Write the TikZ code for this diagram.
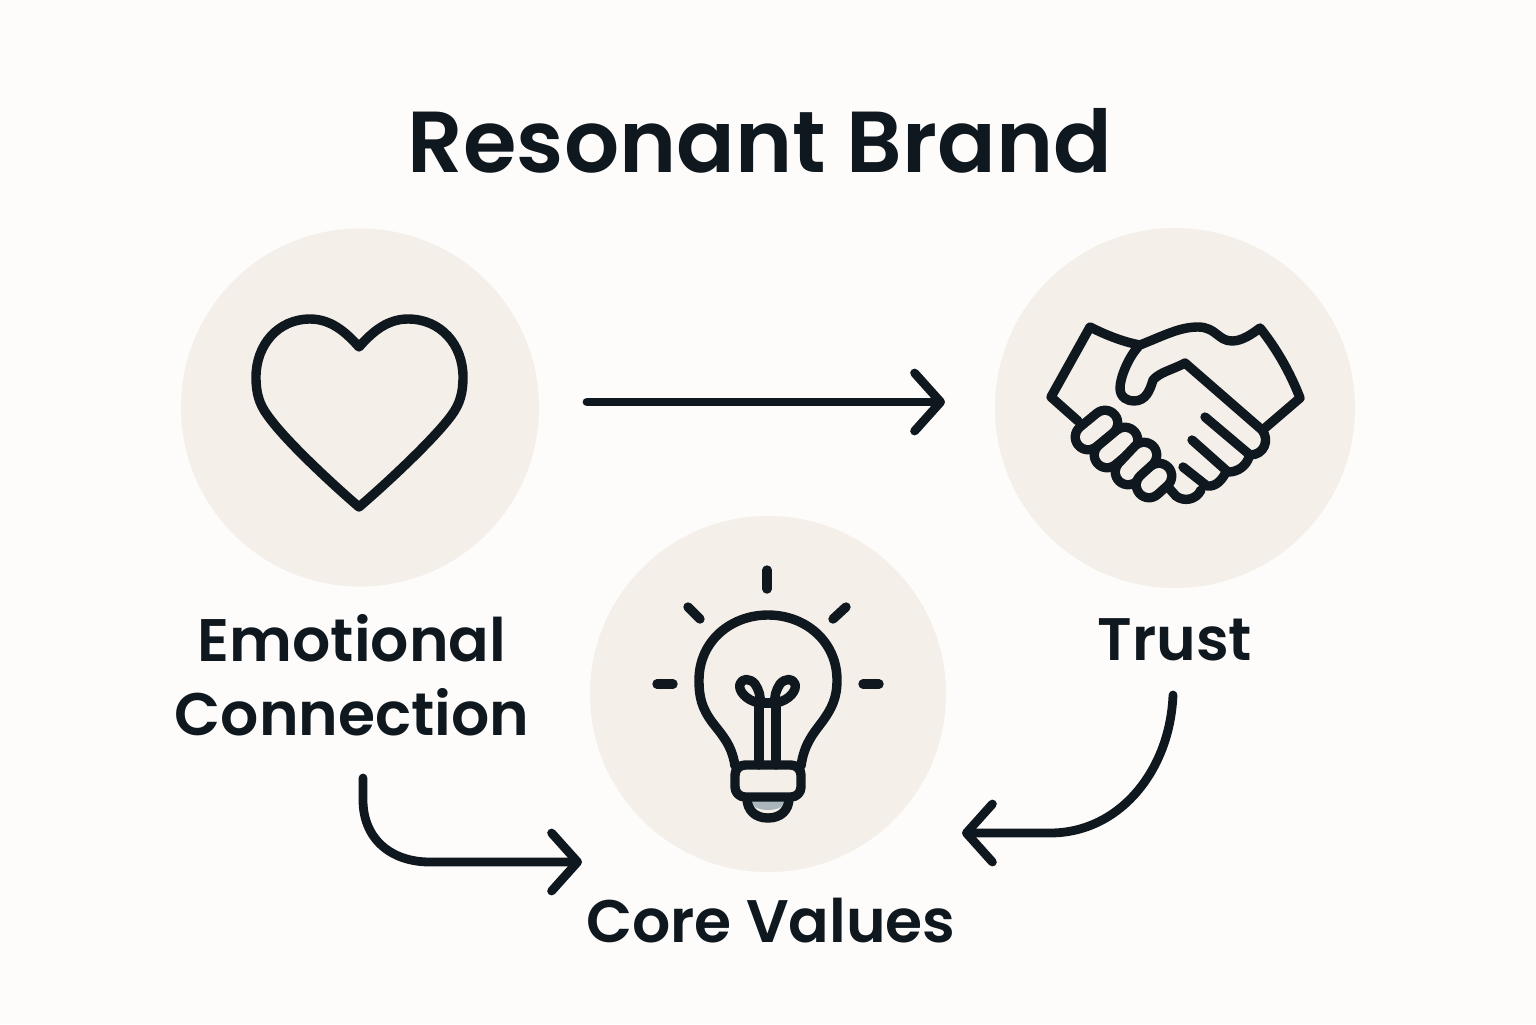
\documentclass[tikz,border=0pt]{standalone}
\usepackage{fontspec}
\setmainfont{Poppins SemiBold}
\usetikzlibrary{arrows.meta}
\definecolor{bgc}{HTML}{FDFCFA}
\definecolor{disc}{HTML}{F4EFE9}
\definecolor{ink}{HTML}{10181F}
\definecolor{glass}{HTML}{A9B6BA}
\tikzset{
  iconline/.style={draw=ink,line width=4.7pt,line cap=round,line join=round},
  disc node/.style={circle,fill=disc,inner sep=0pt,minimum size=#1},
  label text/.style={text=ink,font=\fontsize{30}{30}\selectfont,inner sep=0pt,anchor=base},
  flowarrow/.style={draw=ink,line width=4.4pt,line cap=round,line join=round,-{Straight Barb[length=13pt,width=29pt,round]}},
}
\newcommand{\capsule}[4]{%
  \draw[ink,line width=17.4pt,line cap=round] (#1,#2)--(#3,#4);
  \draw[disc,line width=8pt,line cap=round] (#1,#2)--(#3,#4);}
\begin{document}
\begin{tikzpicture}[x=0.5pt,y=-0.5pt]
\useasboundingbox (0,0) rectangle (1536,1024);
\fill[bgc] (0,0) rectangle (1536,1024);
\node[disc node=179pt] (dE) at (360,407.5) {};
\node[disc node=180pt] (dT) at (1175,408) {};
\node[disc node=178pt] (dC) at (768,694) {};
\node[text=ink,font=\fontsize{43.3}{43.3}\selectfont,inner sep=0pt,anchor=base] (title) at (760,172) {Resonant Brand};
\node[label text] (l1) at (352,661) {Emotional};
\node[label text] (l2) at (352,735) {Connection};
\node[label text] (l3) at (1175,660) {Trust};
\node[label text] (l4) at (771,942) {Core Values};
% heart
\draw[iconline] (359,347) .. controls (345,331) and (330,319) .. (310,319)
 .. controls (278,319) and (256,345) .. (256,377)
 .. controls (256,393) and (259,404) .. (268,416)
 .. controls (285,440) and (330,482) .. (359,507)
 .. controls (388,482) and (433,440) .. (451,416)
 .. controls (460,404) and (463,393) .. (463,377)
 .. controls (463,345) and (441,319) .. (408,319)
 .. controls (388,319) and (373,331) .. (359,347) -- cycle;
% handshake
\draw[iconline] (1078,421) -- (1051,397) -- (1090,327) .. controls (1108,336) and (1124,342) .. (1140,345);
\draw[iconline] (1140,345) .. controls (1165,335) and (1180,327) .. (1198,327)
 .. controls (1216,327) and (1218,341) .. (1232,341)
 .. controls (1242,341) and (1252,334) .. (1260,328)
 .. controls (1276,348) and (1290,372) .. (1300,398) -- (1265,428);
\draw[iconline] (1138,347) .. controls (1128,358) and (1120,378) .. (1120,388)
 .. controls (1120,398) and (1128,401) .. (1134,401)
 .. controls (1146,401) and (1150,390) .. (1153,380)
 .. controls (1160,372) and (1172,370) .. (1185,363) -- (1262,430)
 .. controls (1270,440) and (1264,455) .. (1250,455) -- (1205,417);
\draw[iconline] (1192,440) -- (1228,472) .. controls (1238,472) and (1246,466) .. (1249,457);
\draw[iconline] (1183,467) -- (1207,486) .. controls (1216,487) and (1222,480) .. (1226,472);
\draw[iconline] (1201,490) .. controls (1196,500) and (1184,502) .. (1176,496) -- (1168,487);
\capsule{1088}{437}{1105}{423}
\capsule{1107}{455}{1125}{440}
\capsule{1128}{472}{1144}{455}
\capsule{1149}{485}{1159}{476}
% bulb
\draw[iconline] (767,570) -- (767,589);
\draw[iconline] (688,607) -- (700,619);
\draw[iconline] (846,607) -- (833,619);
\draw[iconline] (657,684) -- (673,684);
\draw[iconline] (863,684) -- (879,684);
\fill[glass] (750,798) -- (786,798) .. controls (786,806) and (778,810) .. (768,810) .. controls (758,810) and (750,806) .. (750,798) -- cycle;
\draw[iconline] (735,766) .. controls (732,745) and (722,735) .. (712,722)
 .. controls (702,708) and (699,698) .. (699,680)
 .. controls (699,642) and (730,615) .. (768,615)
 .. controls (806,615) and (837,642) .. (837,680)
 .. controls (837,698) and (832,708) .. (822,722)
 .. controls (812,735) and (804,745) .. (801,766);
\draw[iconline,rounded corners=5pt] (735,765) -- (735,797) -- (801,797) -- (801,765) -- cycle;
\draw[iconline] (747,798) .. controls (747,810) and (755,818) .. (768,818) .. controls (781,818) and (789,810) .. (789,798);
\draw[iconline] (759,765) -- (759,703) -- (776,703) -- (776,765);
\draw[iconline] (759,703) .. controls (745,700) and (738,690) .. (740,684) .. controls (742,678) and (750,678) .. (755,684) .. controls (759,690) and (761,697) .. (760,703);
\draw[iconline] (776,703) .. controls (790,700) and (797,690) .. (795,684) .. controls (793,678) and (785,678) .. (780,684) .. controls (776,690) and (774,697) .. (775,703);
% connectors
\coordinate (a1) at (587,402); \coordinate (a2) at (945,402);
\coordinate (b1) at (363,778); \coordinate (b2) at (582,862);
\coordinate (c1) at (1173,695); \coordinate (c2) at (962,833);
\draw[flowarrow] (a1) -- (a2);
\draw[flowarrow] (b1) -- (363,800) .. controls (363,838) and (390,862) .. (430,862) -- (b2);
\draw[flowarrow] (c1) .. controls (1170,770) and (1120,833) .. (1050,833) -- (c2);
\end{tikzpicture}
\end{document}
